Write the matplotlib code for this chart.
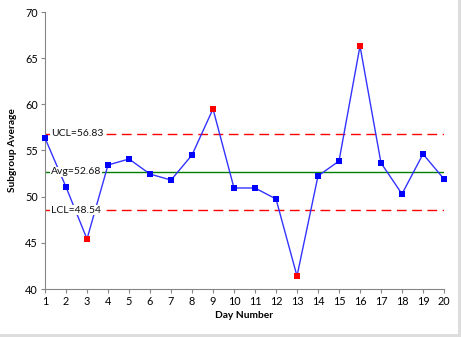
import matplotlib
matplotlib.use('Agg')
import matplotlib.pyplot as plt
from matplotlib.patches import Rectangle

# data
days = list(range(1, 21))
averages = [56.35, 51.05, 45.41, 53.43, 54.08, 52.45, 51.80, 54.51, 59.50, 50.94,
            50.94, 49.75, 41.40, 52.24, 53.86, 66.32, 53.65, 50.29, 54.62, 51.91]
ucl = 56.83
avg = 52.68
lcl = 48.54

plt.rcParams['font.family'] = ['Lato', 'DejaVu Sans']

fig = plt.figure(figsize=(4.61, 3.37), dpi=100)
ax = fig.add_axes([45 / 461, 1 - 289 / 337, 399 / 461, 277 / 337])

# control lines
ax.plot([days[0], days[-1]], [ucl, ucl], color='#ff0000', linestyle=(0, (7, 4)), linewidth=1)
ax.plot([days[0], days[-1]], [avg, avg], color='#008000', linewidth=1)
ax.plot([days[0], days[-1]], [lcl, lcl], color='#ff0000', linestyle=(0, (7, 4)), linewidth=1)

# data line and markers
ax.plot(days, averages, color='#3333ff', linewidth=1, zorder=3, clip_on=False)
colors = ['#ff0000' if (v > ucl or v < lcl) else '#0000ff' for v in averages]
for d, v, c in zip(days, averages, colors):
    ax.plot(d, v, marker='s', markersize=4.3, color=c, markeredgewidth=0, zorder=4, clip_on=False)

# line labels
for name, val in (('UCL', ucl), ('Avg', avg), ('LCL', lcl)):
    ax.text(1.27, val, '%s=%.2f' % (name, val), fontsize=7.5, va='center', ha='left',
            zorder=5, color='#111111',
            bbox=dict(facecolor='white', edgecolor='none', pad=0.6))

ax.set_xlim(1, 20)
ax.set_ylim(40, 70)
ax.set_xticks(days)
ax.set_yticks(range(40, 71, 5))
ax.tick_params(labelsize=7.8, length=3, color='#868686', pad=2)
ax.spines['top'].set_visible(False)
ax.spines['right'].set_visible(False)
ax.spines['left'].set_color('#868686')
ax.spines['bottom'].set_color('#868686')
ax.set_xlabel('Day Number', fontsize=7.3, fontweight='bold', labelpad=3)
ax.set_ylabel('Subgroup Average', fontsize=7.3, fontweight='bold', labelpad=6)

# gray frame at the right and bottom edges
fig.patches.append(Rectangle((1 - 3.5 / 461, 0), 3.5 / 461, 1, transform=fig.transFigure,
                             facecolor='#dddddd', edgecolor='none'))
fig.patches.append(Rectangle((0, 0), 1, 3.5 / 337, transform=fig.transFigure,
                             facecolor='#dddddd', edgecolor='none'))

fig.savefig('out.png', dpi=100)
